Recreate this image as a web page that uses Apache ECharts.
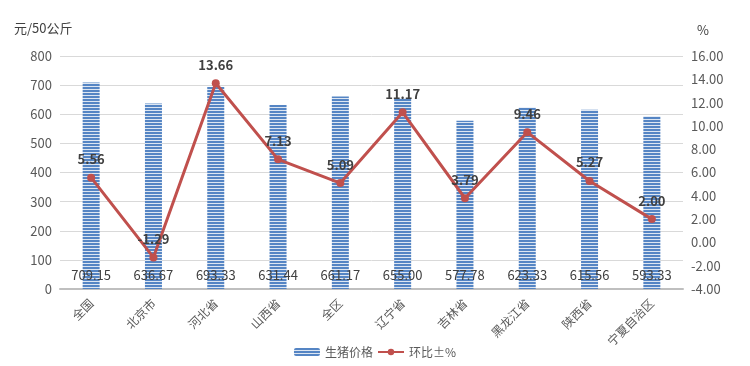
<!DOCTYPE html>
<html><head><meta charset="utf-8">
<script src="https://cdn.jsdelivr.net/npm/echarts@6/dist/echarts.min.js"></script>
<style>html,body{margin:0;padding:0;background:#fff}#c{width:750px;height:366px}</style>
</head><body><div id="c"></div>
<script>
const categories = ['全国','北京市','河北省','山西省','全区','辽宁省','吉林省','黑龙江省','陕西省','宁夏自治区'];
const priceValues = [709.15,636.67,693.33,631.44,661.17,655.00,577.78,623.33,615.56,593.33];
const changeValues = [5.56,-1.29,13.66,7.13,5.09,11.17,3.79,9.46,5.27,2.00];

const pc = document.createElement('canvas');
pc.width = 4; pc.height = 3;
const ctx = pc.getContext('2d');
ctx.fillStyle = '#dde6f2'; ctx.fillRect(0,0,4,3);
ctx.fillStyle = '#5585c4'; ctx.fillRect(0,0,4,2);

const chart = echarts.init(document.getElementById('c'));
const font = '"Microsoft YaHei","Noto Sans CJK SC",sans-serif';
chart.setOption({
  animation:false,
  textStyle:{fontFamily:font},
  grid:{left:60,right:67,top:56,bottom:77},
  legend:{bottom:3,left:'center',itemWidth:26,itemHeight:8,itemGap:4,
    textStyle:{color:'#595959',fontSize:12},
    data:['生猪价格','环比±%']},
  xAxis:{type:'category',data:categories,
    axisLine:{lineStyle:{color:'#bfbfbf',width:2}},
    axisTick:{show:false},
    axisLabel:{rotate:45,interval:0,color:'#595959',fontSize:12,margin:12}},
  yAxis:[
    {type:'value',min:0,max:800,interval:100,name:'元/50公斤',
     nameTextStyle:{color:'#404040',fontSize:13,align:'left',padding:[0,0,6,-46]},
     axisLine:{show:false},axisTick:{show:false},
     axisLabel:{color:'#595959',fontSize:13,margin:8},
     splitLine:{lineStyle:{color:'#d9d9d9'}}},
    {type:'value',min:-4,max:16,interval:2,name:'%',
     nameTextStyle:{color:'#404040',fontSize:13,align:'left',padding:[0,0,4,14]},
     axisLine:{show:false},axisTick:{show:false},
     axisLabel:{color:'#595959',fontSize:13,margin:8,formatter:v=>v.toFixed(2)},
     splitLine:{show:false}}
  ],
  series:[
    {name:'生猪价格',type:'bar',data:priceValues,barWidth:17,
     itemStyle:{color:{image:pc,repeat:'repeat'}},
     label:{show:true,position:'insideBottom',distance:7,color:'#404040',fontSize:13,
       formatter:p=>p.value.toFixed(2)}},
    {name:'环比±%',type:'line',yAxisIndex:1,data:changeValues,
     symbol:'circle',symbolSize:8,
     lineStyle:{color:'#c0504d',width:3},itemStyle:{color:'#c0504d'},
     label:{show:true,position:'top',distance:8,color:'#404040',fontSize:13,fontWeight:'bold',
       formatter:p=>p.value.toFixed(2)}}
  ]
});
</script></body></html>
